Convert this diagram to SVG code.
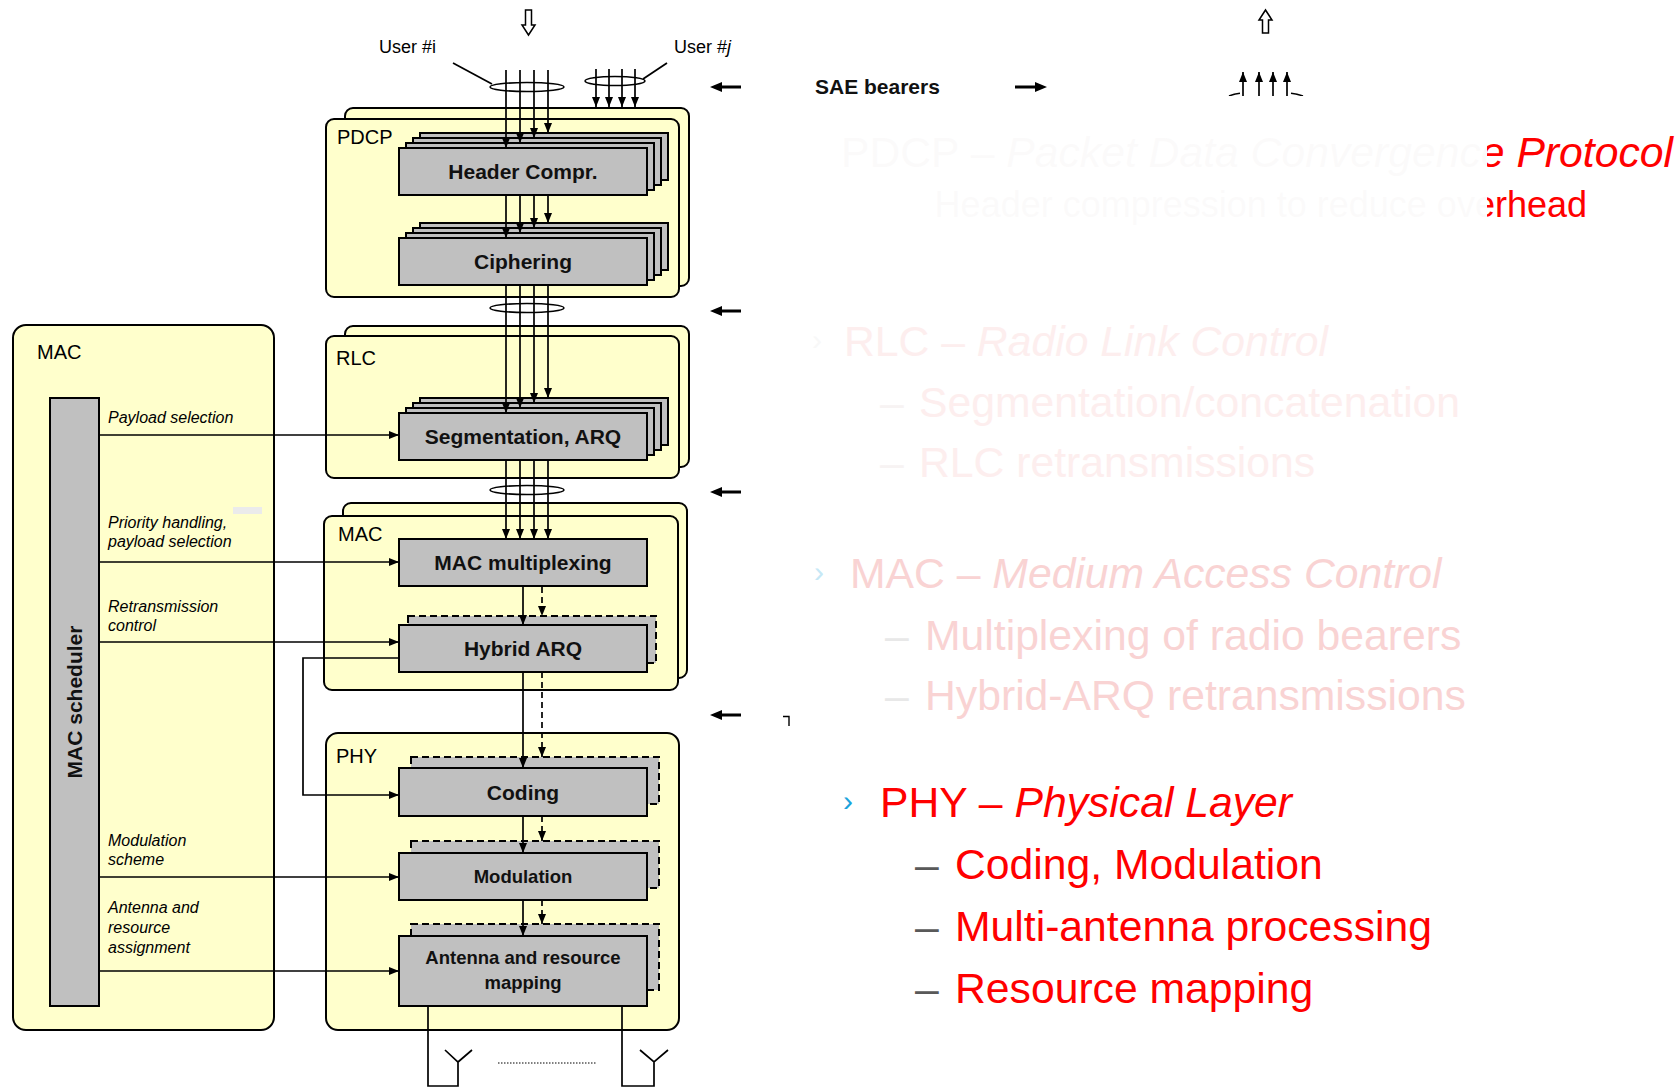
<svg xmlns="http://www.w3.org/2000/svg" width="1676" height="1087" viewBox="0 0 1676 1087">
<defs>
<style>
  text{font-family:"Liberation Sans",Arial,Helvetica,sans-serif}
  .layer{fill:#ffffcc;stroke:#000;stroke-width:2}
  .blk{fill:#c0c0c0;stroke:#000;stroke-width:2}
  .blkd{fill:#c0c0c0;stroke:#000;stroke-width:2;stroke-dasharray:7 4}
  .title{font-size:20px;fill:#000}
  .bt{font-size:21px;font-weight:bold;text-anchor:middle;fill:#111}
  .bts{font-size:18.5px;font-weight:bold;text-anchor:middle;fill:#111}
  .lbl{font-size:16px;font-style:italic;fill:#000}
  .usr{font-size:18px;fill:#000}
  .ln{stroke:#000;stroke-width:1.7;fill:none}
  .arr{marker-end:url(#ah)}
  .dsh{stroke-dasharray:6 4}
  .ring{fill:none;stroke:#000;stroke-width:1.5}
  .sl{font-size:42.7px}
  .it{font-style:italic}
</style>
<marker id="ah" viewBox="0 0 10 8" refX="10" refY="4" markerWidth="10" markerHeight="8" markerUnits="userSpaceOnUse" orient="auto">
  <path d="M0,0 L10,4 L0,8 z" fill="#000"/>
</marker>
<!-- the upper list lines fade out left of x=1487 -->
<linearGradient id="fadeRed" gradientUnits="userSpaceOnUse" x1="0" y1="0" x2="1676" y2="0">
  <stop offset="0" stop-color="#fbfafa"/>
  <stop offset="0.8872" stop-color="#fbfafa"/>
  <stop offset="0.8872" stop-color="#ff0000"/>
  <stop offset="1" stop-color="#ff0000"/>
</linearGradient>
<clipPath id="topClip"><rect x="1200" y="0" width="200" height="96"/></clipPath>
</defs>

<rect width="1676" height="1087" fill="#fff"/>

<!-- MAC control side -->
<g id="mac-ctrl">
  <rect class="layer" x="13" y="325" width="261" height="705" rx="13"/>
  <text class="title" x="37" y="359">MAC</text>
  <rect x="233" y="507" width="29" height="7" fill="#ebebeb"/>
</g>
<g id="mac-scheduler">
  <rect class="blk" x="50" y="398" width="49" height="608"/>
  <text transform="translate(82,702) rotate(-90)" font-size="21" font-weight="bold" text-anchor="middle" fill="#111">MAC scheduler</text>
</g>

<!-- PDCP -->
<g id="pdcp">
  <rect class="layer" x="345" y="108" width="344" height="178" rx="8"/>
  <rect class="layer" x="326" y="119" width="353" height="178" rx="8"/>
  <text class="title" x="337" y="144">PDCP</text>
</g>
<g id="header-compr">
  <rect class="blk" x="420" y="133" width="248" height="47"/>
  <rect class="blk" x="413" y="138" width="248" height="47"/>
  <rect class="blk" x="406" y="143" width="248" height="47"/>
  <rect class="blk" x="399" y="148" width="248" height="47"/>
  <text class="bt" x="523" y="179">Header Compr.</text>
</g>
<g id="ciphering">
  <rect class="blk" x="420" y="223" width="248" height="47"/>
  <rect class="blk" x="413" y="228" width="248" height="47"/>
  <rect class="blk" x="406" y="233" width="248" height="47"/>
  <rect class="blk" x="399" y="238" width="248" height="47"/>
  <text class="bt" x="523" y="269">Ciphering</text>
</g>

<!-- RLC -->
<g id="rlc">
  <rect class="layer" x="345" y="326" width="344" height="141" rx="8"/>
  <rect class="layer" x="326" y="336" width="353" height="142" rx="8"/>
  <text class="title" x="336" y="365">RLC</text>
</g>
<g id="segmentation">
  <rect class="blk" x="420" y="398" width="248" height="47"/>
  <rect class="blk" x="413" y="403" width="248" height="47"/>
  <rect class="blk" x="406" y="408" width="248" height="47"/>
  <rect class="blk" x="399" y="413" width="248" height="47"/>
  <text class="bt" x="523" y="444">Segmentation, ARQ</text>
</g>

<!-- MAC -->
<g id="mac">
  <rect class="layer" x="343" y="503" width="344" height="175" rx="8"/>
  <rect class="layer" x="324" y="516" width="354" height="174" rx="8"/>
  <text class="title" x="338" y="541">MAC</text>
</g>
<g id="mac-mux">
  <rect class="blk" x="399" y="539" width="248" height="47"/>
  <text class="bt" x="523" y="570">MAC multiplexing</text>
</g>
<g id="harq">
  <rect class="blkd" x="408" y="616" width="248" height="47"/>
  <rect class="blk" x="399" y="625" width="248" height="47"/>
  <text class="bt" x="523" y="656">Hybrid ARQ</text>
</g>

<!-- PHY -->
<g id="phy">
  <rect class="layer" x="326" y="733" width="353" height="297" rx="12"/>
  <text class="title" x="336" y="763">PHY</text>
</g>
<g id="coding">
  <rect class="blkd" x="411" y="757" width="248" height="47"/>
  <rect class="blk" x="399" y="768" width="248" height="48"/>
  <text class="bt" x="523" y="800">Coding</text>
</g>
<g id="modulation">
  <rect class="blkd" x="411" y="841" width="248" height="47"/>
  <rect class="blk" x="399" y="853" width="248" height="47"/>
  <text class="bts" x="523" y="883">Modulation</text>
</g>
<g id="antenna-mapping">
  <rect class="blkd" x="411" y="924" width="248" height="66"/>
  <rect class="blk" x="399" y="936" width="248" height="70"/>
  <text class="bts" x="523" y="964">Antenna and resource</text>
  <text class="bts" x="523" y="989">mapping</text>
</g>

<!-- users and bearer labels -->
<g id="users">
  <text class="usr" x="379" y="53">User #i</text>
  <text class="usr" x="674" y="53">User #<tspan class="it">j</tspan></text>
  <text x="815" y="94" font-size="21" font-weight="bold" fill="#111">SAE bearers</text>
  <path d="M525.5,10 H531.5 V25 H535 L528.5,35 L522,25 H525.5 Z" fill="#fff" stroke="#000" stroke-width="1.5"/>
  <path d="M1262.5,33 H1268.5 V20 H1272 L1265.5,10 L1259,20 H1262.5 Z" fill="#fff" stroke="#000" stroke-width="1.5"/>
</g>

<!-- side pointers -->
<g id="pointers" fill="#000">
  <path d="M710,87 L722,82 V85.5 H741 V88.5 H722 V92 Z"/>
  <path d="M1047,87 L1035,82 V85.5 H1015 V88.5 H1035 V92 Z"/>
  <path d="M710,311 L722,306 V309.5 H741 V312.5 H722 V316 Z"/>
  <path d="M710,492 L722,487 V490.5 H741 V493.5 H722 V497 Z"/>
  <path d="M710,715 L722,710 V713.5 H741 V716.5 H722 V720 Z"/>
  <path d="M783,716.5 H789 V726" fill="none" stroke="#000" stroke-width="1.4"/>
</g>

<!-- connectors -->
<g id="connectors">
  <!-- user i bearers into PDCP -->
  <line class="ln" x1="453" y1="63" x2="492" y2="84"/>
  <ellipse class="ring" cx="527" cy="87" rx="37" ry="4.5"/>
  <line class="ln arr" x1="506" y1="70" x2="506" y2="148"/>
  <line class="ln arr" x1="520" y1="70" x2="520" y2="143"/>
  <line class="ln arr" x1="534" y1="70" x2="534" y2="138"/>
  <line class="ln arr" x1="548" y1="70" x2="548" y2="133"/>
  <!-- user j bearers -->
  <line class="ln" x1="667" y1="63" x2="643" y2="79"/>
  <ellipse class="ring" cx="615" cy="81" rx="30" ry="4.5"/>
  <line class="ln arr" x1="596" y1="69" x2="596" y2="107"/>
  <line class="ln arr" x1="609" y1="69" x2="609" y2="107"/>
  <line class="ln arr" x1="622" y1="69" x2="622" y2="107"/>
  <line class="ln arr" x1="635" y1="69" x2="635" y2="107"/>
  <!-- header compression to ciphering -->
  <line class="ln arr" x1="506" y1="195" x2="506" y2="238"/>
  <line class="ln arr" x1="520" y1="195" x2="520" y2="233"/>
  <line class="ln arr" x1="534" y1="195" x2="534" y2="228"/>
  <line class="ln arr" x1="548" y1="195" x2="548" y2="223"/>
  <!-- PDCP to RLC -->
  <ellipse class="ring" cx="527" cy="308" rx="37" ry="4.5"/>
  <line class="ln arr" x1="506" y1="285" x2="506" y2="413"/>
  <line class="ln arr" x1="520" y1="285" x2="520" y2="408"/>
  <line class="ln arr" x1="534" y1="285" x2="534" y2="403"/>
  <line class="ln arr" x1="548" y1="285" x2="548" y2="398"/>
  <!-- RLC to MAC -->
  <ellipse class="ring" cx="527" cy="490" rx="37" ry="4.5"/>
  <line class="ln arr" x1="506" y1="460" x2="506" y2="539"/>
  <line class="ln arr" x1="520" y1="460" x2="520" y2="539"/>
  <line class="ln arr" x1="534" y1="460" x2="534" y2="539"/>
  <line class="ln arr" x1="548" y1="460" x2="548" y2="539"/>
  <!-- MAC chain down to PHY -->
  <line class="ln arr" x1="523" y1="586" x2="523" y2="625"/>
  <line class="ln arr dsh" x1="542" y1="587" x2="542" y2="616"/>
  <line class="ln arr" x1="523" y1="672" x2="523" y2="768"/>
  <line class="ln arr dsh" x1="542" y1="672" x2="542" y2="757"/>
  <line class="ln arr" x1="523" y1="816" x2="523" y2="853"/>
  <line class="ln arr dsh" x1="542" y1="816" x2="542" y2="841"/>
  <line class="ln arr" x1="523" y1="900" x2="523" y2="936"/>
  <line class="ln arr dsh" x1="542" y1="900" x2="542" y2="924"/>
  <!-- scheduler control -->
  <line class="ln arr" x1="99" y1="435" x2="399" y2="435"/>
  <line class="ln arr" x1="99" y1="562" x2="399" y2="562"/>
  <line class="ln arr" x1="99" y1="642" x2="399" y2="642"/>
  <line class="ln arr" x1="99" y1="877" x2="399" y2="877"/>
  <line class="ln arr" x1="99" y1="971" x2="399" y2="971"/>
  <path class="ln arr" d="M399,658 H303 V795 H399"/>
  <!-- antennas -->
  <path class="ln" d="M428,1006 V1086 H458 V1062 M445,1050 L458,1062 L472,1050"/>
  <path class="ln" d="M622,1006 V1086 H654 V1062 M640,1050 L654,1062 L668,1050"/>
  <line x1="498" y1="1063" x2="597" y2="1063" stroke="#000" stroke-width="1" stroke-dasharray="1.5 1.5"/>
  <!-- outgoing bearers -->
  <g clip-path="url(#topClip)">
    <line class="ln arr" x1="1243" y1="100" x2="1243" y2="72"/>
    <line class="ln arr" x1="1259" y1="100" x2="1259" y2="72"/>
    <line class="ln arr" x1="1273" y1="100" x2="1273" y2="72"/>
    <line class="ln arr" x1="1287" y1="100" x2="1287" y2="72"/>
    <path class="ring" d="M1229,96 Q1234,94 1240,93.3 M1291,93.3 Q1297,94 1303,96"/>
  </g>
</g>

<!-- scheduler labels -->
<g id="ctrl-labels">
  <text class="lbl" x="108" y="423">Payload selection</text>
  <text class="lbl" x="108" y="528">Priority handling,</text>
  <text class="lbl" x="108" y="547">payload selection</text>
  <text class="lbl" x="108" y="612">Retransmission</text>
  <text class="lbl" x="108" y="631">control</text>
  <text class="lbl" x="108" y="846">Modulation</text>
  <text class="lbl" x="108" y="865">scheme</text>
  <text class="lbl" x="108" y="913">Antenna and</text>
  <text class="lbl" x="108" y="933">resource</text>
  <text class="lbl" x="108" y="953">assignment</text>
</g>

<!-- layer list -->
<g id="layer-list">
  <text class="sl" x="1673" y="167" text-anchor="end" font-size="42.5" fill="url(#fadeRed)">PDCP – <tspan class="it">Packet Data Convergence Protocol</tspan></text>
  <text x="1587" y="217" text-anchor="end" font-size="36" fill="url(#fadeRed)">Header compression to reduce overhead</text>

  <text x="812" y="350" font-size="30" fill="#f8f8f8">›</text>
  <text class="sl" x="844" y="356" fill="#fdeeee">RLC – <tspan class="it">Radio Link Control</tspan></text>
  <text class="sl" x="880" y="417" fill="#f7f3f3">–</text>
  <text class="sl" x="919" y="417" fill="#fdeeee">Segmentation/concatenation</text>
  <text class="sl" x="880" y="477" fill="#f7f3f3">–</text>
  <text class="sl" x="919" y="477" fill="#fdeeee">RLC retransmissions</text>

  <text x="814" y="582" font-size="30" fill="#c6e8f6">›</text>
  <text class="sl" x="850" y="588" fill="#f9d3d3">MAC – <tspan class="it">Medium Access Control</tspan></text>
  <text class="sl" x="885" y="650" fill="#e8e8e8">–</text>
  <text class="sl" x="925" y="650" fill="#f9d3d3">Multiplexing of radio bearers</text>
  <text class="sl" x="885" y="710" fill="#e8e8e8">–</text>
  <text class="sl" x="925" y="710" fill="#f9d3d3">Hybrid-ARQ retransmissions</text>

  <text x="843" y="811" font-size="30" fill="#1aa3dc">›</text>
  <text class="sl" x="880" y="817" fill="#ff0000">PHY – <tspan class="it">Physical Layer</tspan></text>
  <text class="sl" x="915" y="879" fill="#595959">–</text>
  <text class="sl" x="955" y="879" fill="#ff0000">Coding, Modulation</text>
  <text class="sl" x="915" y="941" fill="#595959">–</text>
  <text class="sl" x="955" y="941" fill="#ff0000">Multi-antenna processing</text>
  <text class="sl" x="915" y="1003" fill="#595959">–</text>
  <text class="sl" x="955" y="1003" fill="#ff0000">Resource mapping</text>
</g>
</svg>
